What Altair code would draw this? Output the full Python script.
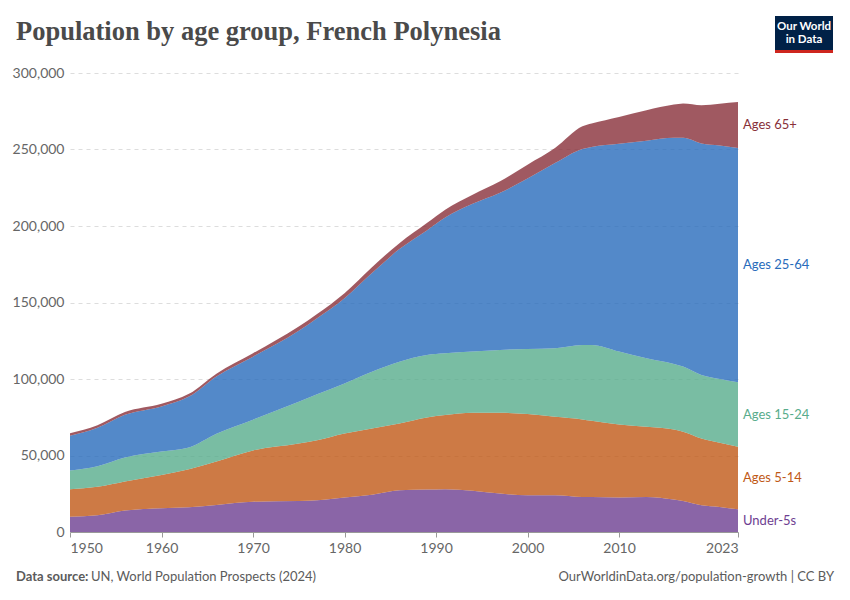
import altair as alt
import pandas as pd

# ---- data ----
years = [1950, 1953, 1956, 1960, 1963, 1966, 1970, 1975, 1977, 1980, 1983, 1986,
         1989, 1991, 1994, 1997, 2000, 2003, 2006, 2007, 2010, 2013, 2016, 2017,
         2019, 2021, 2023]
under_5 = [10000, 10900, 14000, 15500, 16200, 17700, 19800, 20300, 20700, 22500, 24400, 27300,
           27700, 28000, 26900, 25100, 24000, 24000, 22900, 22900, 22500, 22900, 21200, 20300,
           17500, 16400, 14800]
age_5_14 = [17900, 18600, 19000, 21800, 24800, 28400, 33500, 37500, 39300, 41900, 43300, 43600,
            47200, 48400, 51000, 52800, 53100, 51300, 50700, 49800, 47800, 45900, 45800, 45200,
            43600, 41900, 40900]
age_15_24 = [12300, 13500, 15700, 15300, 14300, 18100, 20100, 27300, 30000, 32700, 37100, 40400,
             40800, 40400, 40000, 41100, 42500, 44800, 48600, 49500, 47600, 44700, 42800, 42600,
             41500, 41700, 42100]
age_25_64 = [22700, 25100, 27900, 29500, 33200, 37500, 41200, 46400, 49700, 55700, 64400, 73600,
             81400, 88700, 96600, 102700, 111500, 121100, 128200, 129500, 135800, 142300, 147800, 149500,
             151300, 152600, 153200]
age_65_plus = [1700, 1700, 1800, 1700, 1800, 1800, 2200, 2800, 2800, 3300, 3900, 3900,
               4800, 5200, 6000, 7500, 9000, 9800, 14800, 15300, 17600, 19900, 21800, 22500,
               25100, 27300, 30000]

groups = ["Under-5s", "Ages 5-14", "Ages 15-24", "Ages 25-64", "Ages 65+"]
series = [under_5, age_5_14, age_15_24, age_25_64, age_65_plus]
colors = ["#6D3E91", "#C05917", "#58AC8C", "#286BBB", "#883039"]

x_ticks = [1950, 1960, 1970, 1980, 1990, 2000, 2010, 2023]
y_ticks = [0, 50000, 100000, 150000, 200000, 250000, 300000]

rows = []
for i, yr in enumerate(years):
    for k, (g, vals) in enumerate(zip(groups, series)):
        rows.append({"year": yr, "group": g, "order": k, "value": vals[i]})
df = pd.DataFrame(rows)

FONT = "Lato"

x_scale = alt.Scale(domain=[1950, 2023], nice=False, zero=False)
y_scale = alt.Scale(domain=[0, 300000], nice=False)

x_axis = alt.Axis(values=x_ticks, format="d", title=None, labelFlush=True, grid=False,
                  domainColor="#999999", tickColor="#999999", tickSize=5,
                  labelColor="#666666", labelFontSize=14, labelFont=FONT,
                  labelPadding=4, zindex=1)
y_axis = alt.Axis(values=y_ticks, format=",.0f", title=None, domain=False, ticks=False,
                  gridDash=[4, 4], gridColor="#dddddd", labelColor="#666666",
                  labelFontSize=14, labelFont=FONT, labelPadding=6)

color_enc = alt.Color("group:N", scale=alt.Scale(domain=groups, range=colors), legend=None)

area = alt.Chart(df).mark_area(opacity=0.8, interpolate="monotone").encode(
    x=alt.X("year:Q", scale=x_scale, axis=x_axis),
    y=alt.Y("value:Q", stack="zero", scale=y_scale, axis=y_axis),
    color=color_enc,
    order=alt.Order("order:Q"),
)

labels = (
    alt.Chart(df)
    .transform_filter("datum.year == 2023")
    .transform_stack(stack="value", groupby=["year"], as_=["v0", "v1"],
                     sort=[alt.SortField("order", order="ascending")])
    .transform_calculate(mid="(datum.v0 + datum.v1) / 2")
    .mark_text(align="left", baseline="middle", dx=5, fontSize=13, font=FONT)
    .encode(x=alt.X("year:Q", scale=x_scale, axis=x_axis),
            y=alt.Y("mid:Q", scale=y_scale, axis=y_axis),
            text="group:N", color=color_enc)
)

title = alt.Chart(pd.DataFrame({"t": ["Population by age group, French Polynesia"]})).mark_text(
    align="left", baseline="alphabetic", font="Liberation Serif", fontSize=26.5,
    fontWeight="bold", color="#4a4a4a"
).encode(x=alt.value(-54), y=alt.value(-33), text="t:N")

src_bold = alt.Chart(pd.DataFrame({"t": ["Data source:"]})).mark_text(
    align="left", baseline="middle", font=FONT, fontSize=13, fontWeight="bold", color="#5b5b5b"
).encode(x=alt.value(-54), y=alt.value(504), text="t:N")

src_rest = alt.Chart(pd.DataFrame({"t": ["UN, World Population Prospects (2024)"]})).mark_text(
    align="left", baseline="middle", font=FONT, fontSize=13, color="#5b5b5b"
).encode(x=alt.value(21), y=alt.value(504), text="t:N")

url = alt.Chart(pd.DataFrame({"t": ["OurWorldinData.org/population-growth | CC BY"]})).mark_text(
    align="right", baseline="middle", font=FONT, fontSize=13, color="#5b5b5b"
).encode(x=alt.value(764), y=alt.value(504), text="t:N")

logo_box = alt.Chart(pd.DataFrame({"a": [1]})).mark_rect(color="#002147").encode(
    x=alt.value(705), x2=alt.value(763), y=alt.value(-57), y2=alt.value(-23)
)
logo_red = alt.Chart(pd.DataFrame({"a": [1]})).mark_rect(color="#ce261e").encode(
    x=alt.value(705), x2=alt.value(763), y=alt.value(-23), y2=alt.value(-20)
)
logo_t1 = alt.Chart(pd.DataFrame({"t": ["Our World"]})).mark_text(
    align="center", baseline="middle", font=FONT, fontSize=11.5, fontWeight="bold", color="white"
).encode(x=alt.value(734), y=alt.value(-46), text="t:N")
logo_t2 = alt.Chart(pd.DataFrame({"t": ["in Data"]})).mark_text(
    align="center", baseline="middle", font=FONT, fontSize=11.5, fontWeight="bold", color="white"
).encode(x=alt.value(734), y=alt.value(-33), text="t:N")

chart = (
    alt.layer(area, labels, title, src_bold, src_rest, url, logo_box, logo_red, logo_t1, logo_t2)
    .properties(
        width=668, height=459,
        background="white",
        autosize=alt.AutoSizeParams(type="none"),
        padding={"left": 62, "top": 65, "right": 104, "bottom": 60},
    )
    .configure_view(strokeWidth=0)
)

chart.save("out.html", embed_options={"renderer": "svg", "actions": False})
